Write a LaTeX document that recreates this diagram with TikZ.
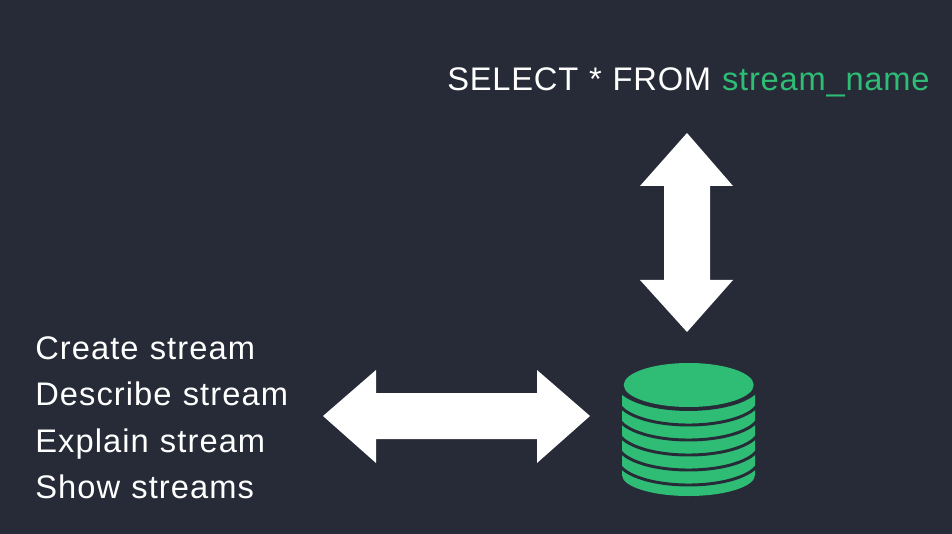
\documentclass[tikz,border=0pt]{standalone}
\usepackage{fontspec}
\setmainfont{Liberation Sans}
\newfontfamily\topfont[LetterSpace=2.4,WordSpace=1.1]{Liberation Sans}
\newfontfamily\sidefont[LetterSpace=3.3,WordSpace=1.1]{Liberation Sans}
\definecolor{bgdark}{RGB}{39,43,55}
\definecolor{dbgreen}{RGB}{47,189,118}
\tikzset{
  label text/.style={text=white,inner sep=0pt,anchor=base west},
  query text/.style={label text,font=\topfont\fontsize{24.5pt}{24.5pt}\selectfont},
  side text/.style={label text,font=\sidefont\fontsize{24.5pt}{24.5pt}\selectfont},
  block arrow/.style={fill=white,draw=none},
  disk/.style={fill=dbgreen,draw=none},
  disk gap/.style={draw=bgdark,line width=2.2pt,line cap=butt}
}
\newcommand{\diskgap}[1]{%
  \draw[disk gap] (617.5,#1-26) arc[start angle=180,end angle=0,x radius=71,y radius=26];
}
\begin{document}
\begin{tikzpicture}[x=0.75pt,y=-0.75pt]
\useasboundingbox (0,0) rectangle (952,534);
\fill[bgdark] (0,0) rectangle (952,534);
\node[query text] (query) at (447,91) {SELECT * FROM \textcolor{dbgreen}{stream\_name}};
\node[side text] (create) at (35,359) {Create stream};
\node[side text] (describe) at (35,405.5) {Describe stream};
\node[side text] (explain) at (35,452) {Explain stream};
\node[side text] (show) at (35,498) {Show streams};
\fill[block arrow] (687,133) -- (733,186) -- (710,186) -- (710,280) -- (733,280) -- (687,332) -- (640,280) -- (664,280) -- (664,186) -- (640,186) -- cycle;
\fill[block arrow] (323,416) -- (376,370) -- (376,393) -- (537,393) -- (537,370) -- (590,416) -- (537,463) -- (537,439) -- (376,439) -- (376,463) -- cycle;
% cylinder body, then the dark gaps between the disks
\fill[disk] (622,385) -- (622,475) arc[start angle=180,end angle=0,x radius=66.5,y radius=21] -- (755,385) -- cycle;
\diskgap{485}
\diskgap{470}
\diskgap{455}
\diskgap{440}
\diskgap{425}
\draw[disk gap,fill=bgdark] (688.5,383.5) ellipse[x radius=71,y radius=26];
\fill[disk] (688.7,385) ellipse[x radius=65,y radius=22];
\end{tikzpicture}
\end{document}
